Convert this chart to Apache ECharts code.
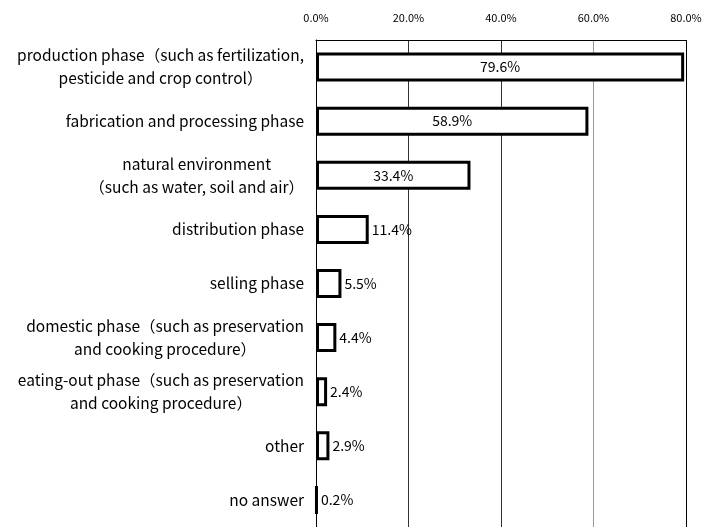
<!DOCTYPE html>
<html>
<head>
<meta charset="utf-8">
<script src="https://cdn.jsdelivr.net/npm/echarts@6/dist/echarts.min.js"></script>
<style>
html,body{margin:0;padding:0;background:#fff;}
#chart{width:716px;height:527px;}
</style>
</head>
<body>
<div id="chart"></div>
<script>
var categories = [
  'production phase（such as fertilization,\npesticide and crop control）',
  'fabrication and processing phase',
  'natural environment\n（such as water, soil and air）',
  'distribution phase',
  'selling phase',
  'domestic phase（such as preservation\nand cooking procedure）',
  'eating-out phase（such as preservation\nand cooking procedure）',
  'other',
  'no answer'
];
var values = [79.6, 58.9, 33.4, 11.4, 5.5, 4.4, 2.4, 2.9, 0.2];
var xTicks = [0, 20, 40, 60, 80];

var FONT = '"Noto Sans CJK JP", "Noto Sans", sans-serif';
var chart = echarts.init(document.getElementById('chart'), null, {renderer: 'canvas'});

var barData = values.map(function (v) {
  return {
    value: v,
    label: v > 20 ? {position: 'inside'} : {position: 'right', distance: 3}
  };
});

chart.setOption({
  animation: false,
  backgroundColor: '#fff',
  grid: {left: 316, right: 30, top: 40, height: 492, containLabel: false},
  xAxis: {
    type: 'value',
    position: 'top',
    min: xTicks[0],
    max: xTicks[xTicks.length - 1],
    interval: 20,
    axisLine: {show: true, lineStyle: {color: '#000', width: 1}},
    axisTick: {show: false},
    axisLabel: {
      margin: 17,
      fontSize: 11,
      color: '#000',
      fontFamily: FONT,
      formatter: function (v) { return v.toFixed(1) + '%'; }
    },
    splitLine: {show: true, lineStyle: {color: ['#000', '#333', '#333', '#999', '#000'], width: 1}}
  },
  yAxis: {
    type: 'category',
    inverse: true,
    data: categories,
    axisLine: {show: true, lineStyle: {color: '#000', width: 1}},
    axisTick: {show: false},
    axisLabel: {
      margin: 12,
      fontSize: 15.5,
      color: '#000',
      fontFamily: FONT,
      lineHeight: 23,
      formatter: function (s) {
        return s.split('\n').map(function (l) { return '{c|' + l + '}'; }).join('\n');
      },
      rich: {c: {align: 'center', fontSize: 15.5, lineHeight: 23, fontFamily: FONT, color: '#000'}}
    }
  },
  series: [{
    type: 'bar',
    data: barData,
    barWidth: 29,
    itemStyle: {color: '#fff', borderColor: '#000', borderWidth: 3},
    label: {
      show: true,
      fontSize: 14,
      color: '#000',
      fontFamily: FONT,
      formatter: function (p) { return p.value.toFixed(1) + '%'; }
    }
  }]
});
</script>
</body>
</html>
